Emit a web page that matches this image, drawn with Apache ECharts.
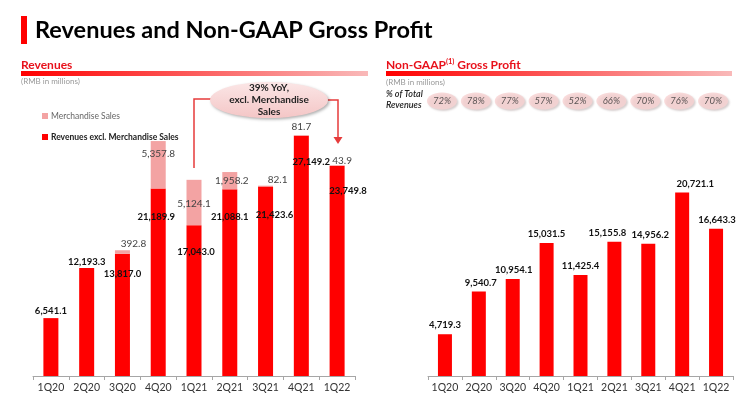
<!DOCTYPE html>
<html>
<head>
<meta charset="utf-8">
<script src="https://cdn.jsdelivr.net/npm/echarts@6/dist/echarts.min.js"></script>
<style>
  html, body { margin: 0; padding: 0; background: #fff; }
  #main { width: 750px; height: 396px; }
</style>
</head>
<body>
<div id="main"></div>
<script>
// data (RMB in millions)
var quarters = ['1Q20', '2Q20', '3Q20', '4Q20', '1Q21', '2Q21', '3Q21', '4Q21', '1Q22'];
var revExclMerch = [6541.1, 12193.3, 13817.0, 21189.9, 17043.0, 21088.1, 21423.6, 27149.2, 23749.8];
var merchSales = [null, null, 392.8, 5357.8, 5124.1, 1958.2, 82.1, 81.7, 43.9];
var grossProfit = [4719.3, 9540.7, 10954.1, 15031.5, 11425.4, 15155.8, 14956.2, 20721.1, 16643.3];
var gpPct = [72, 78, 77, 57, 52, 66, 70, 76, 70];

// label nudges [dx, dy from segment top] - the slide puts them in odd spots
var revLabelPos = [[0, -7], [0, -6], [0, 20], [-2, 28], [2, 27], [0, 28], [9, 29], [10, 26], [11, 25]];
var merchLabelPos = [null, null, [11, -6], [0, 13], [0, 24], [2, 9], [12, -6], [0, -8], [5, -5]];
var gpLabelDx = [0, 2, 1, 0, 0, -7, 2, 13, 1];

var FONT = 'Lato, "Open Sans", sans-serif';
var RED = '#ff0000';
var PINK = '#f3a3a3';
var BW = 15;

function fmt(v) {
    return v.toLocaleString('en-US', {minimumFractionDigits: 1, maximumFractionDigits: 1});
}

var revData = revExclMerch.map(function (v, i) {
    var p = revLabelPos[i];
    return {value: v, label: {position: [BW / 2 + p[0], p[1]]}};
});
var merchData = merchSales.map(function (v, i) {
    var p = merchLabelPos[i];
    if (v == null) return {value: null};
    return {value: v, label: {position: [BW / 2 + p[0], p[1]]}};
});
var gpData = grossProfit.map(function (v, i) {
    return {value: v, label: {offset: [gpLabelDx[i], 0]}};
});

var pillPath = 'path://M0,50 C0,22 22,0 50,0 L50,0 C78,0 100,22 100,50 C100,78 78,100 50,100 C22,100 0,78 0,50 Z';

var xAxisBase = {
    type: 'category',
    data: quarters,
    axisLine: {lineStyle: {color: '#a6a6a6', width: 1}},
    axisTick: {show: true, length: 4, lineStyle: {color: '#a6a6a6'}},
    axisLabel: {color: '#333', fontSize: 10.5, fontFamily: FONT, margin: 6, interval: 0}
};

var option = {
    animation: false,
    textStyle: {fontFamily: FONT},
    legend: {
        orient: 'vertical',
        left: 37,
        top: 105,
        itemWidth: 6,
        itemHeight: 6,
        itemGap: 9,
        icon: 'rect',
        data: [
            {name: 'Merchandise Sales', textStyle: {color: '#666', fontSize: 8.5, fontWeight: 'normal'}},
            {name: 'Revenues excl. Merchandise Sales', textStyle: {color: '#222', fontSize: 8.5, fontWeight: 'bold'}}
        ],
        textStyle: {fontFamily: FONT, lineHeight: 12, padding: [0, 0, 0, -2]}
    },
    grid: [
        {left: 33, right: 395, top: 110.5, bottom: 20},
        {left: 428, right: 17, top: 110.5, bottom: 20},
        {left: 425, right: 20, top: 92, height: 18}
    ],
    xAxis: [
        Object.assign({gridIndex: 0}, xAxisBase),
        Object.assign({gridIndex: 1}, xAxisBase),
        {gridIndex: 2, type: 'category', data: quarters, show: false}
    ],
    yAxis: [
        {gridIndex: 0, type: 'value', min: 0, max: 30000, show: false},
        {gridIndex: 1, type: 'value', min: 0, max: 30000, show: false},
        {gridIndex: 2, type: 'value', min: 0, max: 1, show: false}
    ],
    series: [
        {
            name: 'Revenues excl. Merchandise Sales',
            type: 'bar',
            stack: 'rev',
            xAxisIndex: 0,
            yAxisIndex: 0,
            barWidth: BW,
            itemStyle: {color: RED},
            label: {
                show: true,
                align: 'center',
                verticalAlign: 'middle',
                color: '#111',
                fontWeight: 'bold',
                fontSize: 9.5,
                fontFamily: FONT,
                formatter: function (p) { return fmt(p.value); }
            },
            data: revData
        },
        {
            name: 'Merchandise Sales',
            type: 'bar',
            stack: 'rev',
            xAxisIndex: 0,
            yAxisIndex: 0,
            barWidth: BW,
            itemStyle: {color: PINK},
            label: {
                show: true,
                align: 'center',
                verticalAlign: 'middle',
                color: '#444',
                fontSize: 10,
                fontFamily: FONT,
                formatter: function (p) { return p.value == null ? '' : fmt(p.value); }
            },
            data: merchData
        },
        {
            name: 'Non-GAAP Gross Profit',
            type: 'bar',
            xAxisIndex: 1,
            yAxisIndex: 1,
            barWidth: 14,
            itemStyle: {color: RED},
            label: {
                show: true,
                position: 'top',
                distance: 4,
                color: '#111',
                fontWeight: 'bold',
                fontSize: 9.5,
                fontFamily: FONT,
                formatter: function (p) { return fmt(p.value); }
            },
            data: gpData
        },
        {
            name: 'pct',
            type: 'scatter',
            xAxisIndex: 2,
            yAxisIndex: 2,
            symbol: pillPath,
            symbolSize: [30, 17],
            itemStyle: {
                color: '#f7d2d2',
                shadowColor: 'rgba(90,60,60,0.3)',
                shadowBlur: 2,
                shadowOffsetX: 1.5,
                shadowOffsetY: 1.5
            },
            label: {
                show: true,
                position: 'inside',
                color: '#333',
                fontStyle: 'italic',
                fontSize: 9.5,
                fontFamily: FONT,
                formatter: function (p) { return gpPct[p.dataIndex] + '%'; }
            },
            data: gpPct.map(function () { return 0.5; })
        }
    ],
    graphic: [
        // title
        {type: 'rect', shape: {x: 21, y: 16, width: 6, height: 28}, style: {fill: RED}},
        {type: 'text', x: 35, y: 30, style: {text: 'Revenues and Non-GAAP Gross Profit', fill: '#000', font: 'bold 23.5px ' + FONT, verticalAlign: 'middle'}},
        // section headers
        {type: 'text', x: 21, y: 65, style: {text: 'Revenues', fill: '#e8111b', font: 'bold 12px ' + FONT, verticalAlign: 'middle'}},
        {type: 'rect', shape: {x: 21, y: 71, width: 347, height: 5},
            style: {fill: new echarts.graphic.LinearGradient(0, 0, 1, 0, [{offset: 0, color: '#ff0000'}, {offset: 1, color: '#f9b9b9'}])}},
        {type: 'text', x: 21, y: 81, style: {text: '(RMB in millions)', fill: '#999', font: '8px ' + FONT, verticalAlign: 'middle'}},
        {type: 'text', x: 386, y: 65, style: {
            text: '{a|Non-GAAP}{s|(1)}{a| Gross Profit}',
            verticalAlign: 'middle',
            rich: {
                a: {fill: '#e8111b', font: 'bold 12px ' + FONT},
                s: {fill: '#e8111b', font: 'bold 7.5px ' + FONT, verticalAlign: 'top', padding: [0, 0, 6, 0]}
            }
        }},
        {type: 'rect', shape: {x: 386, y: 71, width: 346, height: 5},
            style: {fill: new echarts.graphic.LinearGradient(0, 0, 1, 0, [{offset: 0, color: '#ff0000'}, {offset: 1, color: '#f9b9b9'}])}},
        {type: 'text', x: 386, y: 82, style: {text: '(RMB in millions)', fill: '#999', font: '8px ' + FONT, verticalAlign: 'middle'}},
        {type: 'text', x: 386, y: 100, style: {text: '% of Total\nRevenues', fill: '#222', font: 'italic 600 9px ' + FONT, lineHeight: 11, verticalAlign: 'middle'}},
        // YoY callout
        {type: 'polyline', shape: {points: [[194, 168], [194, 99], [211, 99]]}, style: {stroke: '#e63b3b', lineWidth: 1.5, fill: null}},
        {type: 'polyline', shape: {points: [[327, 100], [338, 100], [338, 138]]}, style: {stroke: '#e63b3b', lineWidth: 1.5, fill: null}},
        {type: 'polygon', shape: {points: [[333.5, 137], [342.5, 137], [338, 144]]}, style: {fill: '#e63b3b'}},
        {type: 'ellipse', shape: {cx: 269, cy: 100, rx: 59, ry: 18},
            style: {
                fill: new echarts.graphic.LinearGradient(0, 0, 0, 1, [{offset: 0, color: '#fbe6e6'}, {offset: 1, color: '#f4c6c6'}]),
                shadowColor: 'rgba(0,0,0,0.3)', shadowBlur: 3, shadowOffsetX: 1.5, shadowOffsetY: 1.5
            }},
        {type: 'text', x: 269, y: 100, style: {text: '39% YoY,\nexcl. Merchandise\nSales', fill: '#222', font: 'bold 10px ' + FONT, lineHeight: 12, align: 'center', verticalAlign: 'middle'}}
    ]
};

var myChart = echarts.init(document.getElementById('main'));
myChart.setOption(option);
</script>
</body>
</html>
